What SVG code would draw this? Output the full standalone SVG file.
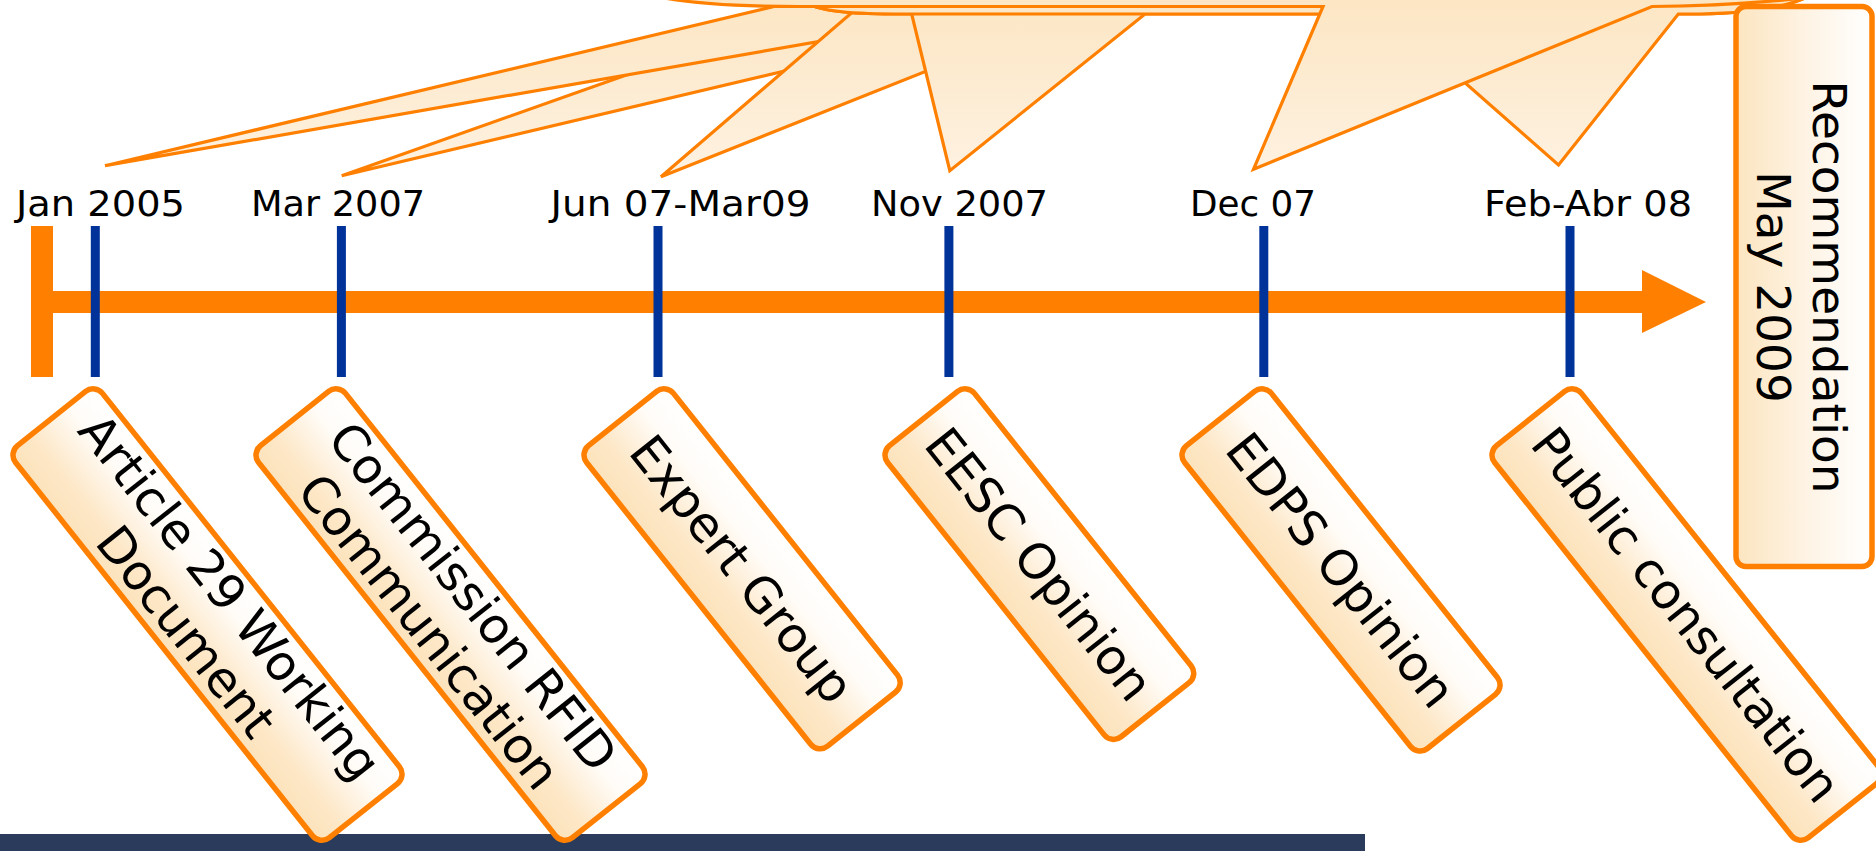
<svg xmlns="http://www.w3.org/2000/svg" width="1876" height="851" viewBox="0 0 1876 851">
  <defs>
    <linearGradient id="calloutFill" gradientUnits="userSpaceOnUse" x1="0" y1="0" x2="0" y2="180">
      <stop offset="0" stop-color="#FCE6C4"/>
      <stop offset="1" stop-color="#FEF2E2"/>
    </linearGradient>
    <linearGradient id="boxFill" x1="0" y1="0" x2="0" y2="1">
      <stop offset="0" stop-color="#FFFFFF"/>
      <stop offset="0.3" stop-color="#FFFCF8"/>
      <stop offset="0.75" stop-color="#FDE7C6"/>
      <stop offset="1" stop-color="#FCE3BC"/>
    </linearGradient>
    <linearGradient id="recFill" x1="0" y1="0" x2="1" y2="0">
      <stop offset="0" stop-color="#FCE5C0"/>
      <stop offset="0.55" stop-color="#FEF4E6"/>
      <stop offset="1" stop-color="#FFFFFF"/>
    </linearGradient>
  </defs>
  <style>
    .callout { fill: url(#calloutFill); stroke: #FF8000; stroke-width: 3.2; stroke-linejoin: miter; }
    .box rect { fill: url(#boxFill); stroke: #FF8000; stroke-width: 5.5; }
    .box text { font-family: "DejaVu Sans", Verdana, sans-serif; font-size: 49px; fill: #000000; text-anchor: middle; }
    .date { font-family: "DejaVu Sans", Verdana, sans-serif; font-size: 36px; fill: #000000; }
    .tick { fill: #003399; }
    .axis { fill: #FF8000; }
  </style>

  <!-- footer band -->
  <rect id="footer-band" x="0" y="834" width="1365" height="17" fill="#2A3B5C"/>

  <!-- callout pointers from the headline panels above, back to front -->
  <g id="connectors">
    <path class="callout" d="M341.7,175.7 L815.7,8 L1034,12 Z"/>
    <path class="callout" d="M105,165.7 L792.8,2 L1000,10 Z"/>
    <path class="callout" d="M661,176.7 L861.8,4 L1095,4 Z"/>
    <path class="callout" d="M790,-60 L803,0 Q815,14 895,14 L911.7,14 L949.8,170.7 L1145,14 L1700,14 Q1770,13 1805,-2 L1810,-60 Z"/>
    <path class="callout" d="M790,-60 L803,0 Q815,14 895,14 L1386.9,14 L1558.5,165 L1678.3,14 L1700,14 Q1770,13 1805,-2 L1810,-60 Z"/>
    <path class="callout" d="M640,-60 L655,-4 Q700,6.5 800,6.5 L1323,6.5 L1253.5,169.3 L1652,6.5 Q1730,6 1815,-3 L1830,-60 Z"/>
  </g>

  <!-- time axis -->
  <g id="axis">
    <rect class="axis" x="31" y="226" width="22" height="151"/>
    <rect class="axis" x="31" y="291" width="1612" height="22"/>
    <polygon class="axis" points="1642,270 1706,302 1642,333"/>
  </g>

  <!-- milestone ticks and dates -->
  <g id="tick-jan2005">
    <rect class="tick" x="90.8" y="226" width="9" height="151"/>
    <text class="date" x="16" y="216" textLength="169" lengthAdjust="spacingAndGlyphs">Jan 2005</text>
  </g>
  <g id="tick-mar2007">
    <rect class="tick" x="336.9" y="226" width="9" height="151"/>
    <text class="date" x="251" y="216" textLength="174" lengthAdjust="spacingAndGlyphs">Mar 2007</text>
  </g>
  <g id="tick-jun07-mar09">
    <rect class="tick" x="653.5" y="226" width="9" height="151"/>
    <text class="date" x="550.5" y="216" textLength="260" lengthAdjust="spacingAndGlyphs">Jun 07-Mar09</text>
  </g>
  <g id="tick-nov2007">
    <rect class="tick" x="944.4" y="226" width="9" height="151"/>
    <text class="date" x="871" y="216" textLength="177" lengthAdjust="spacingAndGlyphs">Nov 2007</text>
  </g>
  <g id="tick-dec07">
    <rect class="tick" x="1259.3" y="226" width="9" height="151"/>
    <text class="date" x="1190" y="216" textLength="126" lengthAdjust="spacingAndGlyphs">Dec 07</text>
  </g>
  <g id="tick-feb-abr08">
    <rect class="tick" x="1565.5" y="226" width="9" height="151"/>
    <text class="date" x="1484" y="216" textLength="208" lengthAdjust="spacingAndGlyphs">Feb-Abr 08</text>
  </g>

  <!-- event boxes -->
  <g id="article29" class="box" transform="translate(95,384) rotate(51.5)">
    <rect x="0" y="0" width="501" height="111" rx="12"/>
    <text x="250.5" y="44">Article 29 Working</text>
    <text x="250.5" y="100">Document</text>
  </g>
  <g id="commission" class="box" transform="translate(338,384) rotate(51.5)">
    <rect x="0" y="0" width="501" height="111" rx="12"/>
    <text x="250.5" y="44">Commission RFID</text>
    <text x="250.5" y="100">Communication</text>
  </g>
  <g id="expert-group" class="box" transform="translate(666,384) rotate(51.5)">
    <rect x="0" y="0" width="384" height="111" rx="12"/>
    <text x="192" y="73">Expert Group</text>
  </g>
  <g id="eesc-opinion" class="box" transform="translate(967,384) rotate(51.5)">
    <rect x="0" y="0" width="372" height="111" rx="12"/>
    <text x="186" y="73">EESC Opinion</text>
  </g>
  <g id="edps-opinion" class="box" transform="translate(1264,384) rotate(51.5)">
    <rect x="0" y="0" width="387" height="111" rx="12"/>
    <text x="193.5" y="73">EDPS Opinion</text>
  </g>
  <g id="public-consultation" class="box" transform="translate(1574,384) rotate(51.5)">
    <rect x="0" y="0" width="501" height="111" rx="12"/>
    <text x="250.5" y="73">Public consultation</text>
  </g>

  <!-- final milestone -->
  <g id="recommendation">
    <rect x="1736" y="6.5" width="136" height="560" rx="10" fill="url(#recFill)" stroke="#FF8000" stroke-width="5.5"/>
    <text transform="translate(1813,287) rotate(90)" font-family="DejaVu Sans, Verdana, sans-serif" font-size="47" text-anchor="middle" fill="#000000">Recommendation</text>
    <text transform="translate(1757,287) rotate(90)" font-family="DejaVu Sans, Verdana, sans-serif" font-size="47" text-anchor="middle" fill="#000000">May 2009</text>
  </g>
</svg>
